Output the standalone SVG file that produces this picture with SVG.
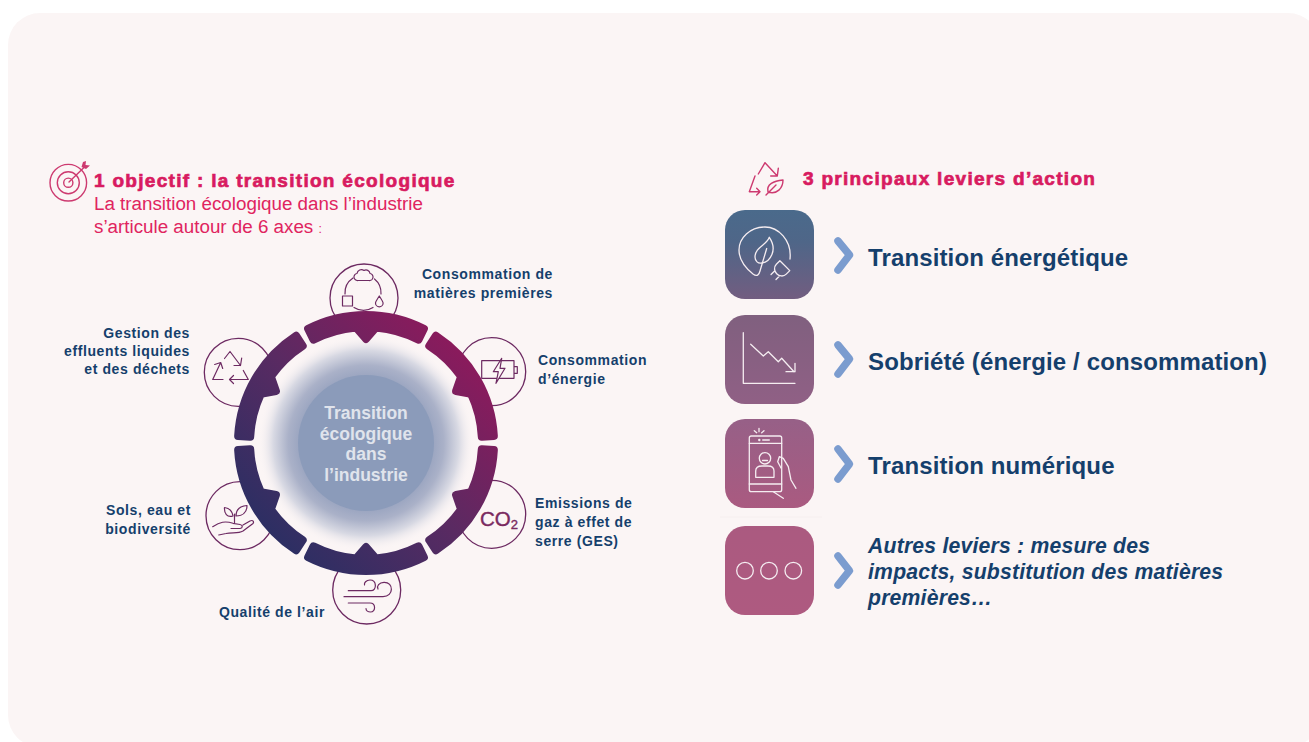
<svg xmlns="http://www.w3.org/2000/svg" width="1309" height="742" viewBox="0 0 1309 742">
<style>
text{font-family:"Liberation Sans",Arial,sans-serif}
.lb{font-size:14px;font-weight:700;fill:#153f6c;letter-spacing:.6px}
.ce{font-size:17.5px;font-weight:700;fill:#e0e4ec;text-anchor:middle}
.end{text-anchor:end}
.h1{font-size:19px;font-weight:700;fill:#d81b60;stroke:#d81b60;stroke-width:.7px;letter-spacing:1.3px}
.sub{font-size:18.8px;fill:#e0245f}
.lev{font-size:24px;font-weight:700;fill:#153f6c;letter-spacing:.13px}
.it{font-size:21.2px;font-weight:700;font-style:italic;fill:#153f6c;letter-spacing:.2px}
.circ{fill:none;stroke:#6d2a62;stroke-width:1.3}
.ic{fill:none;stroke:#6d2a62;stroke-width:1.2;stroke-linecap:round;stroke-linejoin:round}
.red{fill:none;stroke:#cd3a70;stroke-width:1.4;stroke-linecap:round;stroke-linejoin:round}
.wh{fill:none;stroke:#f5edf1;stroke-width:1.3;stroke-linecap:round;stroke-linejoin:round}
.chev{fill:none;stroke:#7b9ccf;stroke-width:7.5;stroke-linecap:round;stroke-linejoin:round}
.seg{stroke-width:8;stroke-linejoin:round}
</style>
<defs>
<linearGradient id="rg" gradientUnits="userSpaceOnUse" x1="270" y1="540" x2="462" y2="346"><stop offset="0" stop-color="#2b2f63"/><stop offset=".5" stop-color="#5a2a62"/><stop offset="1" stop-color="#8c1a5c"/></linearGradient>
<linearGradient id="rg60" href="#rg" gradientTransform="rotate(-60 366 443)"/>
<linearGradient id="rg120" href="#rg" gradientTransform="rotate(-120 366 443)"/>
<linearGradient id="rg180" href="#rg" gradientTransform="rotate(-180 366 443)"/>
<linearGradient id="rg240" href="#rg" gradientTransform="rotate(-240 366 443)"/>
<linearGradient id="rg300" href="#rg" gradientTransform="rotate(-300 366 443)"/>
<radialGradient id="glow" gradientUnits="userSpaceOnUse" cx="366" cy="443" r="108"><stop offset=".6" stop-color="#98a3bf"/><stop offset=".72" stop-color="#aab1c8"/><stop offset=".86" stop-color="#d8d9e3"/><stop offset="1" stop-color="#fbf5f5" stop-opacity="0"/></radialGradient>
<linearGradient id="tile" gradientUnits="userSpaceOnUse" x1="0" y1="210" x2="0" y2="615"><stop offset="0" stop-color="#4a6a8b"/><stop offset=".08" stop-color="#4f6688"/><stop offset=".22" stop-color="#725d80"/><stop offset=".26" stop-color="#80607f"/><stop offset=".48" stop-color="#906085"/><stop offset=".52" stop-color="#976087"/><stop offset=".74" stop-color="#aa5a80"/><stop offset="1" stop-color="#ae5a80"/></linearGradient>
<path id="segp" d="M308.1,328.8 A128,128 0 0 1 423.9,328.8 L418.5,339.6 A116,116 0 0 0 376,327.4 L366,339 L356,327.4 A116,116 0 0 0 313.5,339.6 Z"/>
</defs>

<rect id="background" x="8" y="13" width="1312" height="734" rx="32" fill="#fbf5f5"/>
<line x1="720" y1="517" x2="822" y2="517" stroke="#f6efef" stroke-width="1"/>

<g id="heading-left">
<g id="target-icon">
<circle class="red" cx="68.3" cy="182.7" r="18.3"/><circle class="red" cx="68.3" cy="182.7" r="11"/><circle class="red" cx="68.3" cy="182.7" r="4.6"/>
<path class="red" d="M69,182 L85,166.5"/>
<path d="M81.5,167 L83,162 L86,161 L85.5,165 L90,165.5 L86,169 Z" fill="#cd3a70"/>
</g>
<text class="h1" x="94" y="187">1 objectif : la transition écologique</text>
<text class="sub" x="94" y="210">La transition écologique dans l’industrie</text>
<text class="sub" x="94" y="233">s’articule autour de 6 axes <tspan font-size="12">:</tspan></text>
</g>

<g id="node-matieres">
<circle class="circ" cx="364" cy="298" r="34"/>
<path class="ic" d="M358,280.5 h11 a3.5,3.5 0 0 0 1,-7 a4,4 0 0 0 -6,-3 a4.5,4.5 0 0 0 -7,3 a3.5,3.5 0 0 0 1,7z"/>
<path class="ic" d="M353,278 A18,18 0 0 0 345,294 M354,307.5 A18,18 0 0 0 373,307.5 M381,294 A18,18 0 0 0 374.5,279"/>
<rect class="ic" x="342.5" y="296" width="10" height="10"/>
<path class="ic" d="M379.3,296 C376,301 375.5,302 375.5,303 A3.8,3.8 0 0 0 383.1,303 C383.1,302 382.5,301 379.3,296 Z"/>
<text class="lb end" x="553" y="279">Consommation de</text>
<text class="lb end" x="553" y="298">matières premières</text>
</g>
<g id="node-energie">
<circle class="circ" cx="491.7" cy="371.7" r="34"/>
<text class="lb" x="538" y="365">Consommation</text>
<text class="lb" x="538" y="384">d’énergie</text>
</g>
<g id="node-ges">
<circle class="circ" cx="491.7" cy="514.3" r="34"/>
<text class="lb" x="535" y="508">Emissions de</text>
<text class="lb" x="535" y="527">gaz à effet de</text>
<text class="lb" x="535" y="546">serre (GES)</text>
</g>
<g id="node-air">
<circle class="circ" cx="366.7" cy="590" r="34"/>
<path class="ic" d="M348.3,590.7 H371 C377,590.7 377,580 370,580 C366,580 364,583 364.5,585 M344,596.7 H383 C394,596.7 394,582 384,582.3 C379,582.5 376.5,586 378,589 M348.3,603 H370 C376,603 376,612 370.5,612 C368,612 366,610.5 366,608.5"/>
<text class="lb end" x="325" y="617">Qualité de l’air</text>
</g>
<g id="node-sols">
<circle class="circ" cx="240" cy="515.7" r="34"/>
<path class="ic" d="M233,516 C232,510 228,508 224.5,507.5 C224,513 227,518 233,516 M236,516 C236,509 241,506 247,505.5 C247,512 243,516 236,516 M234.5,523 V514 M212.7,526.7 C220,522 225,520.7 233,523.3 L240,524.5 C243,525 243,528 240,528.5 L231,528.5 M243,525 L250,521 C253,519.5 254.5,522 252.7,523.7 L243,531 C238,534 232,532 226,533.5 L218.7,535"/>
<text class="lb end" x="191" y="515">Sols, eau et</text>
<text class="lb end" x="191" y="534">biodiversité</text>
</g>
<g id="node-dechets">
<circle class="circ" cx="238.3" cy="372.3" r="34"/>
<path class="ic" d="M224.5,358.5 L230,351.5 L240.5,365.5 M234,365.5 H240.5 L241.7,358 M243.3,370.5 L248.3,379.5 H229.5 M233.5,375.5 L229.5,379.5 L233.5,383.5 M223,379.5 H212.7 L220.7,362.5 M214.7,364.5 L220.7,362.5 L222.7,368.5"/>
<text class="lb end" x="190" y="338">Gestion des</text>
<text class="lb end" x="190" y="356">effluents liquides</text>
<text class="lb end" x="190" y="374">et des déchets</text>
</g>

<g id="node-centre">
<circle cx="366" cy="443" r="108" fill="url(#glow)"/>
<circle cx="366" cy="443" r="68" fill="#8b9bba"/>
<text class="ce" x="366" y="419">Transition</text>
<text class="ce" x="366" y="440">écologique</text>
<text class="ce" x="366" y="460">dans</text>
<text class="ce" x="366" y="481">l’industrie</text>
</g>

<g id="connectors">
<use href="#segp" class="seg" fill="url(#rg)" stroke="url(#rg)"/>
<use href="#segp" class="seg" fill="url(#rg60)" stroke="url(#rg60)" transform="rotate(60 366 443)"/>
<use href="#segp" class="seg" fill="url(#rg120)" stroke="url(#rg120)" transform="rotate(120 366 443)"/>
<use href="#segp" class="seg" fill="url(#rg180)" stroke="url(#rg180)" transform="rotate(180 366 443)"/>
<use href="#segp" class="seg" fill="url(#rg240)" stroke="url(#rg240)" transform="rotate(240 366 443)"/>
<use href="#segp" class="seg" fill="url(#rg300)" stroke="url(#rg300)" transform="rotate(300 366 443)"/>
</g>

<g id="icon-battery">
<path class="ic" d="M481.7,360.7 H514 V378.3 H481.7 Z M514,366.7 H517.3 V373.3 H514"/>
<path d="M501.7,358.3 L493.3,371.7 H498.3 L496,383.3 L505,368.3 H500 Z" fill="#fbf5f5" stroke="#6d2a62" stroke-width="1.2" stroke-linejoin="round"/>
</g>
<g id="icon-co2" fill="#7a2a60" stroke="#7a2a60" stroke-width=".4"><text x="480" y="526" font-size="20.5">CO<tspan font-size="13" dy="3">2</tspan></text></g>

<g id="heading-right">
<g id="recycle-leaf-icon">
<path class="red" d="M758.3,174 L765,162.7 L777.3,176 M770.7,176 H777.3 L778.3,168.3 M755,176 L749.3,191.7 H760 M756.7,188.3 L760,191.7 L756.7,195"/>
<path class="red" d="M768,192 C766,184 774,181 783,180 C783,188 777,195 768,192 M766,195 L776,185"/>
</g>
<text class="h1" x="803" y="185">3 principaux leviers d’action</text>
</g>

<g id="lever-energetique">
<rect x="725" y="210" width="89" height="89" rx="20" fill="url(#tile)"/>
<path class="wh" d="M790,259 C792,240 778,227 765,227 C750,227 739,238 739,250 C739,262 748,270 753,274 C757,277 759,275 760,271 L766.7,248.5"/>
<path class="wh" d="M769.3,237.3 C767,245 755,247 755,257 C755,261 758,264 762,263 C770,262 778,250 769.3,237.3 Z"/>
<g transform="translate(782,268.5) rotate(45)"><path class="wh" d="M-7,-4 H7 V1 C7,5 3.5,7.5 0,7.5 C-3.5,7.5 -7,5 -7,1 Z M-3.5,7 V12 M3.5,7 V12"/></g>
<path class="chev" d="M838,241 L849.5,255 L838,270"/>
<text class="lev" x="868" y="266">Transition énergétique</text>
</g>
<g id="lever-sobriete">
<rect x="725" y="315" width="89" height="89" rx="20" fill="url(#tile)"/>
<path class="wh" d="M743.3,332.7 V383.3 H795"/>
<path class="wh" d="M750.7,344.3 L763.3,356 L768.3,351.7 L778.3,361.7 L781.7,358.3 L794,371.7 M786,371.7 H795 V363.3"/>
<path class="chev" d="M838,345 L849.5,359 L838,374"/>
<text class="lev" x="868" y="370">Sobriété (énergie / consommation)</text>
</g>
<g id="lever-numerique">
<rect x="725" y="419" width="89" height="89" rx="20" fill="url(#tile)"/>
<rect class="wh" x="749.3" y="436" width="32.4" height="55.7" rx="2"/>
<path class="wh" d="M749.3,443.3 H781.7 M749.3,484 H781.7 M762.7,440 H769.3 M754.3,430.7 L756.7,432.7 M759,428.3 V431.7 M764,430.7 L761.7,432.7 M762.5,460.5 H767.5 M773.3,491.7 L783.3,498.3 M781,468 L777.7,461.7 L779.3,456.7 L783.3,458.3 L788.3,466.7 L791,480 L796,488.3"/>
<circle class="wh" cx="765" cy="458.3" r="5.7"/>
<circle cx="759.3" cy="440" r="1.2" fill="#f5edf1"/>
<path class="wh" d="M755.7,477.3 V471 C755.7,467 759,466 762,466 H768 C771,466 774,467 774,471 V477.3 Z"/>
<path class="chev" d="M838,449 L849.5,464 L838,479"/>
<text class="lev" x="868" y="474">Transition numérique</text>
</g>
<g id="lever-autres">
<rect x="725" y="526" width="89" height="89" rx="20" fill="url(#tile)"/>
<circle class="wh" cx="745" cy="570.7" r="8.3"/><circle class="wh" cx="769" cy="570.7" r="8.3"/><circle class="wh" cx="793.3" cy="570.7" r="8.3"/>
<path class="chev" d="M838,556 L849.5,570.7 L838,585"/>
<text class="it" x="868" y="553">Autres leviers : mesure des</text>
<text class="it" x="868" y="579">impacts, substitution des matières</text>
<text class="it" x="868" y="605">premières…</text>
</g>
</svg>
